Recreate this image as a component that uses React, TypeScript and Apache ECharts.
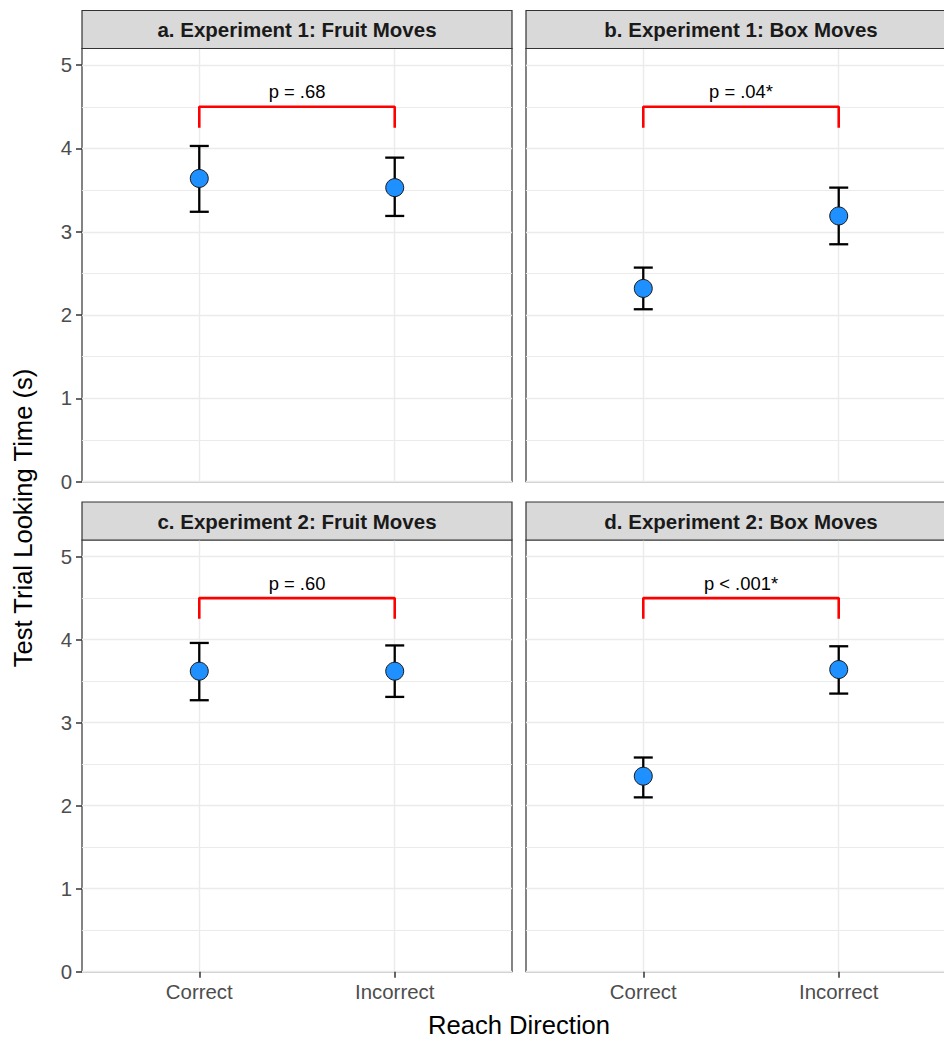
import React, { useEffect, useRef } from 'react';
import * as echarts from 'echarts';

const categories = ['Correct', 'Incorrect'];
const categoryPositions = [1, 2];
const panelTitles = [
  'a. Experiment 1: Fruit Moves',
  'b. Experiment 1: Box Moves',
  'c. Experiment 2: Fruit Moves',
  'd. Experiment 2: Box Moves',
];

const meansA = [3.64, 3.53];
const lowerA = [3.24, 3.19];
const upperA = [4.03, 3.89];

const meansB = [2.32, 3.19];
const lowerB = [2.07, 2.85];
const upperB = [2.57, 3.53];

const meansC = [3.62, 3.62];
const lowerC = [3.27, 3.31];
const upperC = [3.96, 3.93];

const meansD = [2.355, 3.64];
const lowerD = [2.1, 3.35];
const upperD = [2.58, 3.92];

const pLabels = ['p = .68', 'p = .04*', 'p = .60', 'p < .001*'];
const bracketBase = 4.25;
const bracketTop = 4.5;

const yTicks = [0, 1, 2, 3, 4, 5];
const yMinorTicks = [0.5, 1.5, 2.5, 3.5, 4.5];
const yMin = 0;
const yMax = 5.2;
const xMin = 0.4;
const xMax = 2.6;

const yAxisTitle = 'Test Trial Looking Time (s)';
const xAxisTitle = 'Reach Direction';

const FONT = '"Liberation Sans", Arial, sans-serif';

const panels = [
  { means: meansA, lower: lowerA, upper: upperA },
  { means: meansB, lower: lowerB, upper: upperB },
  { means: meansC, lower: lowerC, upper: upperC },
  { means: meansD, lower: lowerD, upper: upperD },
];

const gridRects = [
  { left: 82, top: 48.5, width: 430, height: 433.2 },
  { left: 526, top: 48.5, width: 430, height: 433.2 },
  { left: 82, top: 540, width: 430, height: 431.7 },
  { left: 526, top: 540, width: 430, height: 431.7 },
];
const STRIP_H = 38;

export default function App() {
  const ref = useRef<HTMLDivElement>(null);

  useEffect(() => {
    if (!ref.current) return;
    const chart = echarts.init(ref.current, undefined, { renderer: 'svg' });

    const grids = gridRects.map((g) => ({
      ...g,
      show: true,
      borderColor: '#333333',
      borderWidth: 1.2,
      backgroundColor: '#ffffff',
    }));

    const xAxes = gridRects.map((_, i) => {
      const isBottom = i >= 2;
      return {
        type: 'value',
        gridIndex: i,
        min: xMin,
        max: xMax,
        axisLine: { show: false },
        axisTick: {
          show: isBottom,
          customValues: categoryPositions,
          length: 6,
          lineStyle: { color: '#333333', width: 1.5 },
        },
        axisLabel: {
          show: isBottom,
          customValues: categoryPositions,
          formatter: (v: number) => categories[categoryPositions.indexOf(v)] ?? '',
          fontSize: 20.4,
          color: '#4d4d4d',
          fontFamily: FONT,
          margin: 10,
        },
        splitLine: { show: true, lineStyle: { color: '#ebebeb', width: 1.4 } },
      };
    });

    const yAxes: any[] = [];
    gridRects.forEach((_, i) => {
      const isLeft = i % 2 === 0;
      yAxes.push({
        type: 'value',
        gridIndex: i,
        min: yMin,
        max: yMax,
        position: 'left',
        axisLine: { show: false },
        axisTick: {
          show: isLeft,
          customValues: yTicks,
          length: 6,
          lineStyle: { color: '#333333', width: 1.5 },
        },
        axisLabel: {
          show: isLeft,
          customValues: yTicks,
          fontSize: 20.4,
          color: '#4d4d4d',
          fontFamily: FONT,
          margin: 10,
        },
        splitLine: { show: true, lineStyle: { color: '#ebebeb', width: 1.4 } },
      });
    });
    gridRects.forEach((_, i) => {
      yAxes.push({
        type: 'value',
        gridIndex: i,
        min: yMin,
        max: yMax,
        position: 'left',
        axisLine: { show: false },
        axisTick: { show: false, customValues: yMinorTicks },
        axisLabel: { show: false, customValues: yMinorTicks },
        splitLine: { show: true, lineStyle: { color: '#ebebeb', width: 1 } },
      });
    });

    const series: any[] = [];
    panels.forEach((p, i) => {
      series.push({
        type: 'custom',
        xAxisIndex: i,
        yAxisIndex: i,
        z: 3,
        encode: { x: 0, y: [1, 2] },
        data: categoryPositions.map((x, k) => [x, p.lower[k], p.upper[k]]),
        renderItem: (params: any, api: any) => {
          const x = api.value(0);
          const lo = api.value(1);
          const hi = api.value(2);
          const pLo = api.coord([x, lo]);
          const pHi = api.coord([x, hi]);
          const half = 9.5;
          const style = { stroke: '#000000', lineWidth: 2.3, fill: null };
          return {
            type: 'group',
            children: [
              { type: 'line', shape: { x1: pLo[0], y1: pLo[1], x2: pHi[0], y2: pHi[1] }, style },
              { type: 'line', shape: { x1: pLo[0] - half, y1: pLo[1], x2: pLo[0] + half, y2: pLo[1] }, style },
              { type: 'line', shape: { x1: pHi[0] - half, y1: pHi[1], x2: pHi[0] + half, y2: pHi[1] }, style },
            ],
          };
        },
      });
      series.push({
        type: 'scatter',
        xAxisIndex: i,
        yAxisIndex: i,
        z: 4,
        symbolSize: 18,
        itemStyle: { color: '#1E90FF', borderColor: '#1a1a1a', borderWidth: 1, opacity: 1 },
        data: categoryPositions.map((x, k) => [x, p.means[k]]),
      });
      series.push({
        type: 'line',
        xAxisIndex: i,
        yAxisIndex: i,
        z: 3,
        symbol: 'none',
        lineStyle: { color: '#ff0000', width: 2.6 },
        data: [
          [categoryPositions[0], bracketBase],
          [categoryPositions[0], bracketTop],
          [categoryPositions[1], bracketTop],
          [categoryPositions[1], bracketBase],
        ],
      });
      series.push({
        type: 'scatter',
        xAxisIndex: i,
        yAxisIndex: i,
        z: 4,
        symbolSize: 2,
        itemStyle: { color: 'rgba(0,0,0,0)', opacity: 1 },
        label: {
          show: true,
          position: 'top',
          distance: 5,
          formatter: () => pLabels[i],
          fontSize: 18.4,
          color: '#000000',
          fontFamily: FONT,
        },
        data: [[(categoryPositions[0] + categoryPositions[1]) / 2, bracketTop]],
      });
    });

    const graphics: any[] = [];
    gridRects.forEach((g, i) => {
      graphics.push({
        type: 'rect',
        shape: { x: g.left, y: g.top - STRIP_H, width: g.width, height: STRIP_H },
        style: { fill: '#d9d9d9', stroke: '#333333', lineWidth: 1.2 },
        z: 10,
      });
      graphics.push({
        type: 'text',
        x: g.left + g.width / 2,
        y: g.top - STRIP_H / 2,
        style: {
          text: panelTitles[i],
          fontSize: 20.5,
          fontWeight: 'bold',
          fill: '#1a1a1a',
          fontFamily: FONT,
          textAlign: 'center',
          textVerticalAlign: 'middle',
        },
        z: 11,
      });
    });
    graphics.push({
      type: 'text',
      x: 23,
      y: 518,
      rotation: Math.PI / 2,
      style: {
        text: yAxisTitle,
        fontSize: 25.6,
        fill: '#000000',
        fontFamily: FONT,
        textAlign: 'center',
        textVerticalAlign: 'middle',
      },
    });
    graphics.push({
      type: 'text',
      x: 519,
      y: 1025,
      style: {
        text: xAxisTitle,
        fontSize: 25.6,
        fill: '#000000',
        fontFamily: FONT,
        textAlign: 'center',
        textVerticalAlign: 'middle',
      },
    });

    chart.setOption({
      animation: false,
      backgroundColor: '#ffffff',
      grid: grids,
      xAxis: xAxes,
      yAxis: yAxes,
      series,
      graphic: graphics,
    });

    return () => chart.dispose();
  }, []);

  return (
    <div style={{ position: 'absolute', left: 0, top: 0, width: 944, height: 1038, overflow: 'hidden' }}>
      <div ref={ref} style={{ width: 964, height: 1038 }} />
    </div>
  );
}
